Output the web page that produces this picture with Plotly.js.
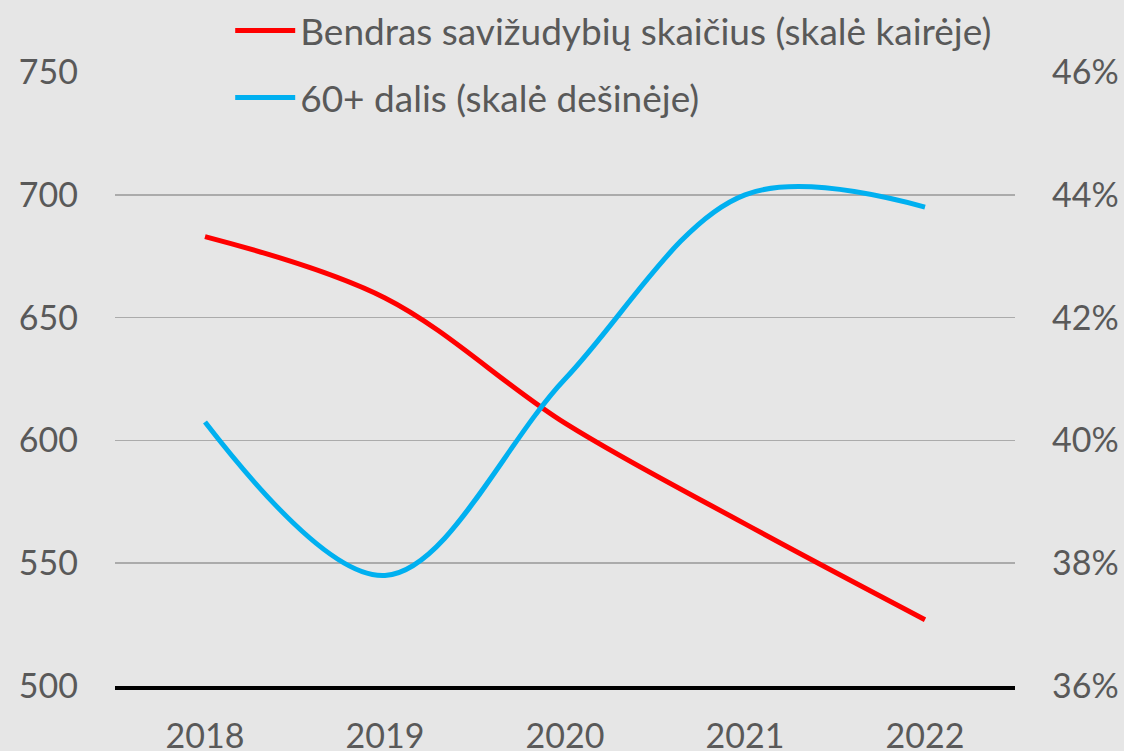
<!DOCTYPE html>
<html>
<head>
<meta charset="utf-8">
<script src="https://cdn.plot.ly/plotly-3.0.1.min.js"></script>
<style>html,body{margin:0;padding:0;background:#e6e6e6;}#chart{width:1124px;height:751px;}</style>
</head>
<body>
<div id="chart"></div>
<script>
const years = ['2018', '2019', '2020', '2021', '2022'];
const totalSuicides = [683, 658, 607, 566, 527];
const share60plus = [0.403, 0.378, 0.410, 0.440, 0.438];
const leftTicks = [500, 550, 600, 650, 700, 750];
const rightTicks = [0.36, 0.38, 0.40, 0.42, 0.44, 0.46];
const rightTickLabels = ['36%', '38%', '40%', '42%', '44%', '46%'];
const seriesNames = ['Bendras savižudybių skaičius (skalė kairėje)', '60+ dalis (skalė dešinėje)'];

const fontFam = 'Lato, "Noto Sans", sans-serif';
const txt = '#595959';

const traces = [
  {
    x: years, y: totalSuicides, name: seriesNames[0], type: 'scatter', mode: 'lines',
    line: {color: '#ff0000', width: 5, shape: 'spline', smoothing: 1},
    yaxis: 'y', legend: 'legend'
  },
  {
    x: years, y: share60plus, name: seriesNames[1], type: 'scatter', mode: 'lines',
    line: {color: '#00b0f0', width: 5, shape: 'spline', smoothing: 1},
    yaxis: 'y2', legend: 'legend2'
  }
];

const legendBase = {
  x: 0.128, xanchor: 'left', yref: 'container', yanchor: 'top',
  bgcolor: 'rgba(0,0,0,0)', font: {family: fontFam, size: 37, color: txt},
  itemwidth: 60
};

const layout = {
  width: 1124, height: 751,
  paper_bgcolor: '#e6e6e6', plot_bgcolor: '#e6e6e6',
  margin: {l: 115, r: 109, t: 72, b: 65, autoexpand: false},
  font: {family: fontFam, size: 34, color: txt},
  showlegend: true,
  legend: Object.assign({}, legendBase, {y: 1.0}),
  legend2: Object.assign({}, legendBase, {y: 0.9108}),
  xaxis: {
    type: 'category', range: [-0.5, 4.5], showgrid: false,
    showline: true, linecolor: '#000000', linewidth: 4,
    ticks: '', ticklabelstandoff: 17,
    tickfont: {family: fontFam, size: 34, color: txt}, fixedrange: true
  },
  yaxis: {
    range: [500, 750], tickvals: leftTicks, ticktext: leftTicks.map(String),
    showgrid: true, gridcolor: '#ababab', gridwidth: 1.5, zeroline: false,
    showline: false, ticks: '', ticklabelstandoff: 36,
    tickfont: {family: fontFam, size: 34, color: txt}
  },
  yaxis2: {
    overlaying: 'y', side: 'right', range: [0.36, 0.46],
    tickvals: rightTicks, ticktext: rightTickLabels,
    showgrid: false, zeroline: false, showline: false, ticks: '', ticklabelstandoff: 36,
    tickfont: {family: fontFam, size: 34, color: txt}
  }
};

Plotly.newPlot('chart', traces, layout, {displayModeBar: false, staticPlot: true});
</script>
</body>
</html>
